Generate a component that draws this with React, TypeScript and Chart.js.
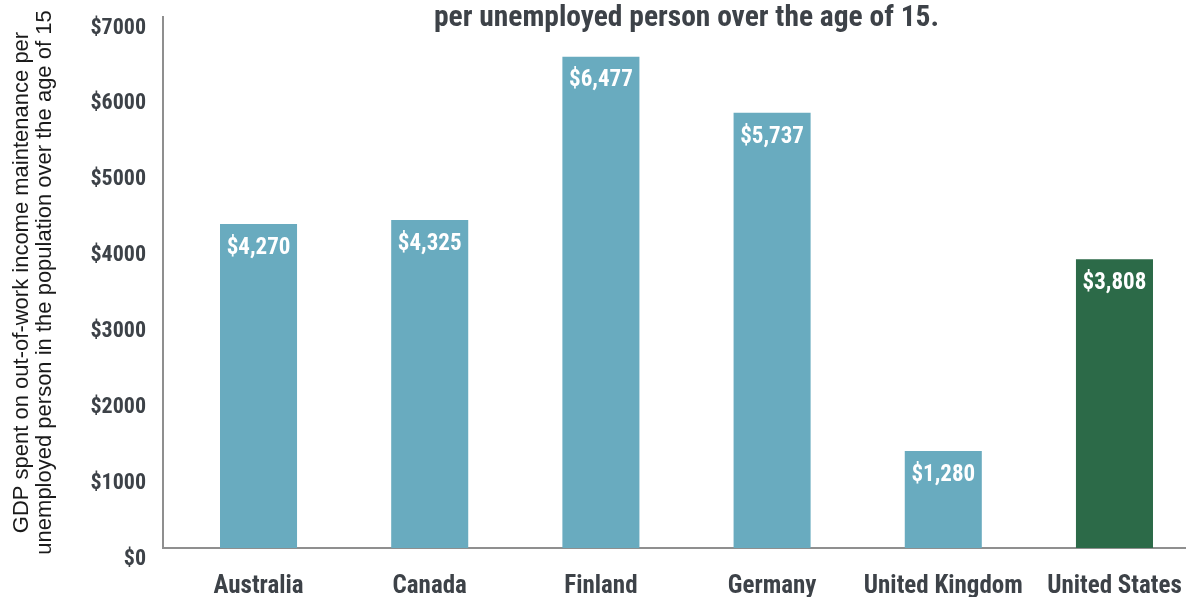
import React, { useEffect, useRef } from "react";
import { Chart, registerables } from "chart.js";

Chart.register(...registerables);

const categories = ["Australia", "Canada", "Finland", "Germany", "United Kingdom", "United States"];
const values = [4270, 4325, 6477, 5737, 1280, 3808];
const yTicks = [0, 1000, 2000, 3000, 4000, 5000, 6000, 7000];
const highlightCategory = "United States";
const titleText = "per unemployed person over the age of 15.";
const yTitle = [
  "GDP spent on out-of-work income maintenance per",
  "unemployed person in the population over the age of 15",
];

const NARROW = "'Roboto Condensed', 'Open Sans Condensed', 'Liberation Sans Narrow', sans-serif";
const BLUE = "#69abbf";
const GREEN = "#2c6a48";
const AXIS = "#8f8f8f";
const TEXT = "#3d4248";

const valueLabels = {
  id: "valueLabels",
  afterDatasetsDraw(chart: any) {
    const ctx = chart.ctx;
    const meta = chart.getDatasetMeta(0);
    ctx.save();
    ctx.fillStyle = "#ffffff";
    ctx.font = `bold 23px ${NARROW}`;
    ctx.textAlign = "center";
    ctx.textBaseline = "middle";
    meta.data.forEach((bar: any, i: number) => {
      const txt = "$" + values[i].toLocaleString("en-US");
      ctx.fillText(txt, bar.x, bar.y + 24);
    });
    ctx.restore();
  },
};

export default function App() {
  const ref = useRef<HTMLCanvasElement>(null);
  useEffect(() => {
    if (!ref.current) return;
    const chart = new Chart(ref.current, {
      type: "bar",
      data: {
        datasets: [
          {
            data: values.map((v, i) => ({ x: i, y: v })),
            backgroundColor: categories.map((c) => (c === highlightCategory ? GREEN : BLUE)),
            barPercentage: 0.45,
            categoryPercentage: 1,
          },
        ],
      },
      options: {
        responsive: false,
        animation: false,
        layout: { padding: { left: 0, right: 12, top: 0, bottom: 0 } },
        plugins: {
          legend: { display: false },
          tooltip: { enabled: false },
          title: {
            display: true,
            text: titleText,
            fullSize: false,
            color: TEXT,
            font: { family: NARROW, size: 29.5, weight: "bold", lineHeight: 1.2 },
            padding: { top: 0.6, bottom: -19 },
          },
        },
        scales: {
          x: {
            type: "linear",
            offset: false,
            min: -0.558,
            max: 5.558,
            afterBuildTicks: (axis: any) => {
              axis.ticks = categories.map((_, i) => ({ value: i }));
            },
            afterFit: (s: any) => {
              s.height = 49;
              s.paddingLeft = 0;
              s.paddingRight = 0;
            },
            grid: { display: false, drawTicks: false, offset: false },
            border: { display: true, color: AXIS, width: 2 },
            ticks: {
              autoSkip: false,
              maxRotation: 0,
              padding: 24,
              color: TEXT,
              font: { family: NARROW, size: 25, weight: "bold" },
              callback: (v: any) => categories[v] ?? "",
            },
          },
          y: {
            min: 0,
            max: 7000,
            afterBuildTicks: (axis: any) => {
              axis.ticks = yTicks.map((v) => ({ value: v }));
            },
            afterFit: (s: any) => {
              s.width = 163;
              s.paddingTop = 0;
              s.paddingBottom = 0;
            },
            grid: { display: false, drawTicks: false },
            border: { display: true, color: AXIS, width: 2 },
            ticks: {
              padding: 17,
              labelOffset: 11,
              color: TEXT,
              font: { family: NARROW, size: 22, weight: "bold" },
              callback: (v: any) => "$" + v,
            },
            title: {
              display: true,
              text: yTitle,
              color: "#1a1a1a",
              font: { family: "'Liberation Sans', Arial, sans-serif", size: 22, weight: "normal", lineHeight: 1.08 },
              padding: { top: 9.75, bottom: 0 },
            },
          },
        },
      },
      plugins: [valueLabels],
    } as any);
    return () => chart.destroy();
  }, []);
  return (
    <div
      style={{
        position: "fixed",
        left: 0,
        top: 0,
        width: "100vw",
        height: "100vh",
        overflow: "hidden",
        background: "#ffffff",
      }}
    >
      <canvas ref={ref} width={1222} height={597} style={{ display: "block" }} />
    </div>
  );
}
